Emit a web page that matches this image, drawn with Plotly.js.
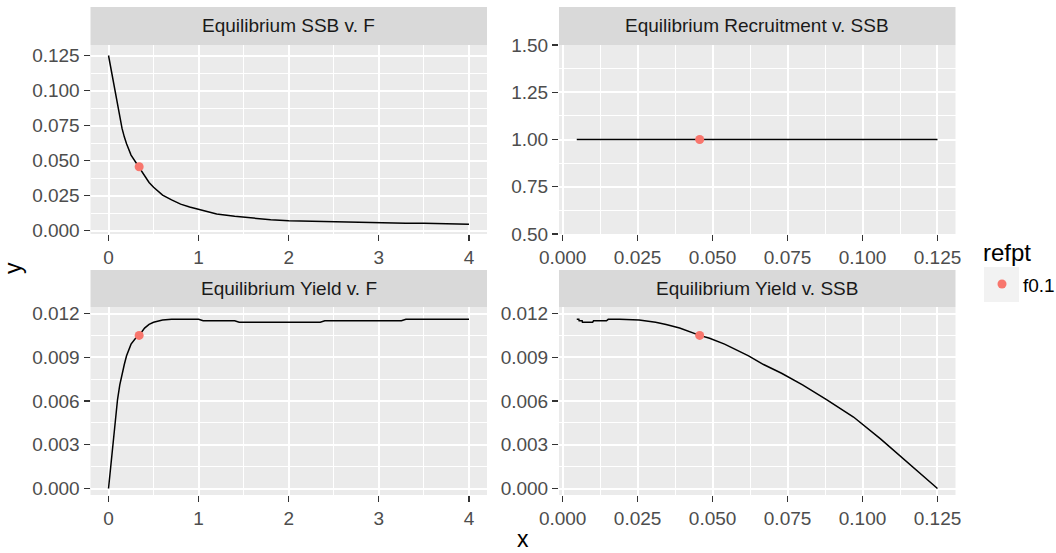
<!DOCTYPE html>
<html>
<head>
<meta charset="utf-8">
<script src="https://cdn.plot.ly/plotly-3.0.1.min.js"></script>
<style>html,body{margin:0;padding:0;background:#fff;}#chart{width:1056px;height:553px;}</style>
</head>
<body>
<div id="chart"></div>
<script>
// Equilibrium curves over a grid of fishing mortality F
const F = [0, 0.025, 0.05, 0.075, 0.1, 0.125, 0.15, 0.175, 0.2, 0.25, 0.3, 0.34, 0.4, 0.45, 0.5, 0.6, 0.7, 0.8, 0.9, 1.0, 1.05, 1.2, 1.4, 1.45, 1.6, 1.8, 2.0, 2.35, 2.4, 2.5, 2.8, 3.0, 3.25, 3.3, 3.5, 3.85, 3.9, 4.0];
const ssb = [0.125, 0.116, 0.106, 0.097, 0.088, 0.080, 0.073, 0.067, 0.062, 0.054, 0.049, 0.0457, 0.039, 0.0345, 0.031, 0.0255, 0.022, 0.019, 0.017, 0.0152, 0.0146, 0.0120, 0.0103, 0.0100, 0.0088, 0.0079, 0.0072, 0.0066, 0.0065, 0.0064, 0.0058, 0.0056, 0.0055, 0.0054, 0.0054, 0.0052, 0.0048, 0.0047];
const yieldEq = [0, 0.0016, 0.0034, 0.0049, 0.0061, 0.0071, 0.0079, 0.0085, 0.0091, 0.0099, 0.0103, 0.0105, 0.0110, 0.01125, 0.0114, 0.01155, 0.0116, 0.0116, 0.0116, 0.0116, 0.0115, 0.0115, 0.0115, 0.0114, 0.0114, 0.0114, 0.0114, 0.0114, 0.0115, 0.0115, 0.0115, 0.0115, 0.0115, 0.0116, 0.0116, 0.0116, 0.0116, 0.0116];
const rec = [1, 1, 1, 1, 1, 1, 1, 1, 1, 1, 1, 1, 1, 1, 1, 1, 1, 1, 1, 1, 1, 1, 1, 1, 1, 1, 1, 1, 1, 1, 1, 1, 1, 1, 1, 1, 1, 1];

// Reference point
const refptName = ["f0.1"];
const refF = [0.34];
const refSSB = [0.0457];
const refYield = [0.0105];
const refRec = [1];

const panelTitles = ["Equilibrium SSB v. F", "Equilibrium Recruitment v. SSB", "Equilibrium Yield v. F", "Equilibrium Yield v. SSB"];

const W = 1056, H = 553;
const FONT = "Liberation Sans, Arial, sans-serif";
const px = v => v / W;
const py = v => (H - v) / H;

const lineStyle = {color: "#000000", width: 1.5};
const ptStyle = {color: "#F8766D", size: 9};

const traces = [
  {x: F, y: ssb, xaxis: "x", yaxis: "y", mode: "lines", line: lineStyle, showlegend: false, hoverinfo: "skip"},
  {x: refF, y: refSSB, xaxis: "x", yaxis: "y", mode: "markers", marker: ptStyle, showlegend: false, name: refptName[0]},
  {x: ssb, y: rec, xaxis: "x2", yaxis: "y2", mode: "lines", line: lineStyle, showlegend: false, hoverinfo: "skip"},
  {x: refSSB, y: refRec, xaxis: "x2", yaxis: "y2", mode: "markers", marker: ptStyle, showlegend: false, name: refptName[0]},
  {x: F, y: yieldEq, xaxis: "x3", yaxis: "y3", mode: "lines", line: lineStyle, showlegend: false, hoverinfo: "skip"},
  {x: refF, y: refYield, xaxis: "x3", yaxis: "y3", mode: "markers", marker: ptStyle, showlegend: false, name: refptName[0]},
  {x: ssb, y: yieldEq, xaxis: "x4", yaxis: "y4", mode: "lines", line: lineStyle, showlegend: false, hoverinfo: "skip"},
  {x: refSSB, y: refYield, xaxis: "x4", yaxis: "y4", mode: "markers", marker: ptStyle, showlegend: false, name: refptName[0]}
];

function ax(opts) {
  return Object.assign({
    showgrid: true, gridcolor: "#FFFFFF", gridwidth: 2,
    zeroline: false, showline: false,
    ticks: "outside", ticklen: 6, tickwidth: 1.1, tickcolor: "#333333",
    tickfont: {family: FONT, size: 19, color: "#4D4D4D"},
    fixedrange: true
  }, opts);
}
function minor(dtick, tick0) {
  return {dtick: dtick, tick0: tick0, showgrid: true, gridcolor: "#FFFFFF", gridwidth: 1, ticks: ""};
}

const L = [90.5, 487], R = [559, 955.5];
const T = [45, 234], B = [307, 495];

const layout = {
  width: W, height: H,
  margin: {l: 0, r: 0, t: 0, b: 0},
  paper_bgcolor: "#FFFFFF", plot_bgcolor: "#EBEBEB",
  showlegend: false,
  font: {family: FONT},
  xaxis: ax({domain: [px(L[0]), px(L[1])], anchor: "y", range: [-0.2, 4.2], tick0: 0, dtick: 1, minor: minor(0.5, 0)}),
  yaxis: ax({domain: [py(T[1]), py(T[0])], anchor: "x", range: [-0.00228, 0.13249], tick0: 0, dtick: 0.025, tickformat: ".3f", minor: minor(0.0125, 0)}),
  xaxis2: ax({domain: [px(R[0]), px(R[1])], anchor: "y2", range: [-0.00122, 0.13101], tick0: 0, dtick: 0.025, tickformat: ".3f", minor: minor(0.0125, 0)}),
  yaxis2: ax({domain: [py(T[1]), py(T[0])], anchor: "x2", range: [0.5, 1.5], tick0: 0.5, dtick: 0.25, tickformat: ".2f", minor: minor(0.125, 0.5)}),
  xaxis3: ax({domain: [px(L[0]), px(L[1])], anchor: "y3", range: [-0.2, 4.2], tick0: 0, dtick: 1, minor: minor(0.5, 0)}),
  yaxis3: ax({domain: [py(B[1]), py(B[0])], anchor: "x3", range: [-0.000446, 0.012446], tick0: 0, dtick: 0.003, tickformat: ".3f", minor: minor(0.0015, 0)}),
  xaxis4: ax({domain: [px(R[0]), px(R[1])], anchor: "y4", range: [-0.00122, 0.13101], tick0: 0, dtick: 0.025, tickformat: ".3f", minor: minor(0.0125, 0)}),
  yaxis4: ax({domain: [py(B[1]), py(B[0])], anchor: "x4", range: [-0.000446, 0.012446], tick0: 0, dtick: 0.003, tickformat: ".3f", minor: minor(0.0015, 0)}),
  shapes: [],
  annotations: []
};

// facet strips
const strips = [[L, 7, 45], [R, 7, 45], [L, 270, 307], [R, 270, 307]];
strips.forEach((s, i) => {
  layout.shapes.push({type: "rect", xref: "paper", yref: "paper", x0: px(s[0][0]), x1: px(s[0][1]), y0: py(s[2]), y1: py(s[1]), fillcolor: "#D9D9D9", line: {width: 0}, layer: "below"});
  layout.annotations.push({xref: "paper", yref: "paper", x: px((s[0][0] + s[0][1]) / 2), y: py((s[1] + s[2]) / 2), xanchor: "center", yanchor: "middle", showarrow: false, text: panelTitles[i], font: {family: FONT, size: 19, color: "#1A1A1A"}});
});

// axis titles
layout.annotations.push({xref: "paper", yref: "paper", x: px(523), y: py(539), xanchor: "center", yanchor: "middle", showarrow: false, borderpad: 0, text: "x", font: {family: FONT, size: 23, color: "#000000"}});
layout.annotations.push({xref: "paper", yref: "paper", x: px(13), y: py(268), xanchor: "center", yanchor: "middle", showarrow: false, textangle: -90, text: "y", font: {family: FONT, size: 23, color: "#000000"}});

// legend
layout.annotations.push({xref: "paper", yref: "paper", x: px(981), y: py(252), xanchor: "left", yanchor: "middle", showarrow: false, text: "refpt", font: {family: FONT, size: 24, color: "#000000"}});
layout.shapes.push({type: "rect", xref: "paper", yref: "paper", x0: px(984), x1: px(1019), y0: py(302), y1: py(267), fillcolor: "#F2F2F2", line: {width: 0}});
layout.shapes.push({type: "circle", xref: "paper", yref: "paper", x0: px(997.5), x1: px(1006.5), y0: py(288.5), y1: py(279.5), fillcolor: "#F8766D", line: {width: 0}});
layout.annotations.push({xref: "paper", yref: "paper", x: px(1021), y: py(285), xanchor: "left", yanchor: "middle", showarrow: false, text: refptName[0], font: {family: FONT, size: 19, color: "#000000"}});

Plotly.newPlot("chart", traces, layout, {displayModeBar: false, staticPlot: true});
</script>
</body>
</html>
